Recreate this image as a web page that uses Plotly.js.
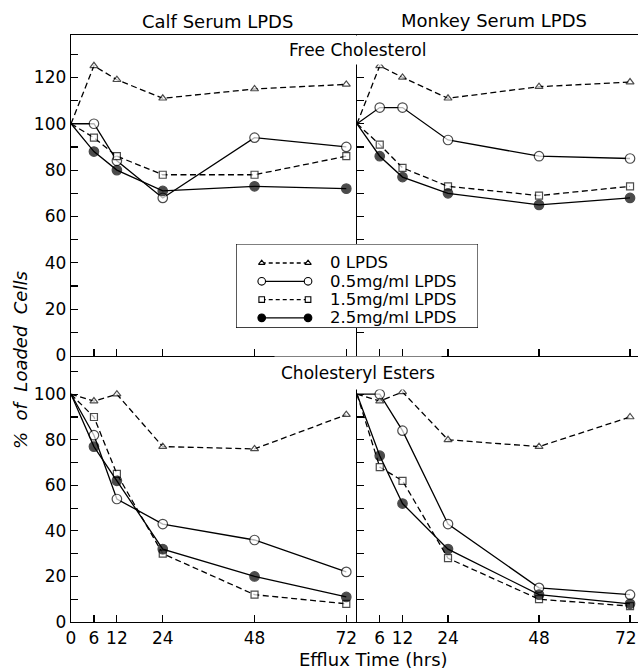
<!DOCTYPE html>
<html><head><meta charset="utf-8">
<script src="https://cdn.plot.ly/plotly-3.0.1.min.js"></script>
<style>html,body{margin:0;padding:0;background:#fff}</style>
</head><body>
<div id="chart" style="width:638px;height:669px"></div>
<script>
// ---- data ----
const times = [0, 6, 12, 24, 48, 72];
const seriesNames = ['0 LPDS', '0.5mg/ml LPDS', '1.5mg/ml LPDS', '2.5mg/ml LPDS'];
const panelTitles = ['Calf Serum LPDS', 'Monkey Serum LPDS'];
const rowTitles = ['Free Cholesterol', 'Cholesteryl Esters'];

const calfFree_0   = [100, 125, 119, 111, 115, 117];
const calfFree_05  = [100, 100, 84, 68, 94, 90];
const calfFree_15  = [100, 94, 86, 78, 78, 86];
const calfFree_25  = [100, 88, 80, 71, 73, 72];

const monkeyFree_0  = [100, 125, 120, 111, 116, 118];
const monkeyFree_05 = [100, 107, 107, 93, 86, 85];
const monkeyFree_15 = [100, 91, 81, 73, 69, 73];
const monkeyFree_25 = [100, 86, 77, 70, 65, 68];

const calfEster_0  = [100, 97, 100, 77, 76, 91];
const calfEster_05 = [100, 82, 54, 43, 36, 22];
const calfEster_15 = [100, 90, 65, 30, 12, 8];
const calfEster_25 = [100, 77, 62, 32, 20, 11];

const monkeyEster_0  = [100, 97, 101, 80, 77, 90];
const monkeyEster_05 = [100, 100, 84, 43, 15, 12];
const monkeyEster_15 = [100, 68, 62, 28, 10, 7];
const monkeyEster_25 = [100, 73, 52, 32, 12, 8];

const xTicksLeft = [0, 6, 12, 24, 48, 72];
const xTicksRight = [6, 12, 24, 48, 72];
const yTicksTop = [0, 20, 40, 60, 80, 100, 120];
const yTicksBottom = [0, 20, 40, 60, 80, 100];

// ---- styles ----
const FONT = 'DejaVu Sans';
const styles = [
  {symbol: 'triangle-up', fill: 'white', dash: '6px,3.5px', size: 7},
  {symbol: 'circle', fill: 'white', dash: 'solid', size: 9.5},
  {symbol: 'square', fill: 'white', dash: '6px,3.5px', size: 7},
  {symbol: 'circle', fill: 'black', dash: 'solid', size: 9.5}
];

const panels = [
  {xa: 'x',  ya: 'y',  data: [calfFree_0, calfFree_05, calfFree_15, calfFree_25]},
  {xa: 'x2', ya: 'y2', data: [monkeyFree_0, monkeyFree_05, monkeyFree_15, monkeyFree_25]},
  {xa: 'x3', ya: 'y3', data: [calfEster_0, calfEster_05, calfEster_15, calfEster_25]},
  {xa: 'x4', ya: 'y4', data: [monkeyEster_0, monkeyEster_05, monkeyEster_15, monkeyEster_25]}
];

const traces = [];
panels.forEach(p => {
  p.data.forEach((vals, i) => {
    const s = styles[i];
    traces.push({
      type: 'scatter', mode: 'lines+markers',
      x: times, y: vals, xaxis: p.xa, yaxis: p.ya,
      name: seriesNames[i], showlegend: false, cliponaxis: false,
      line: {color: 'black', width: 1.3, dash: s.dash},
      marker: {symbol: s.symbol, color: s.fill,
               size: times.map(t => t === 0 ? 0 : s.size),
               line: {color: 'black', width: 1.2}}
    });
  });
});

// custom legend samples (two markers joined by a line)
seriesNames.forEach((n, i) => {
  const s = styles[i];
  traces.push({
    type: 'scatter', mode: 'lines+markers', x: [0, 1], y: [i, i],
    xaxis: 'x5', yaxis: 'y5', showlegend: false, hoverinfo: 'skip',
    line: {color: 'black', width: 1.3, dash: s.dash === 'solid' ? 'solid' : '4px,3px'},
    marker: {symbol: s.symbol, color: s.fill, size: s.size * 0.8, line: {color: 'black', width: 1.1}}
  });
});

const axBase = {
  showline: true, linecolor: 'black', linewidth: 1.3,
  ticks: 'inside', ticklen: 7, tickwidth: 1.2, tickcolor: 'black',
  showgrid: false, zeroline: false, fixedrange: true, ticklabeloverflow: 'allow',
  tickfont: {family: FONT, size: 17, color: 'black'}
};
const minorY = {dtick: 10, ticks: 'inside', ticklen: 7, tickwidth: 1.2, tickcolor: 'black', showgrid: false};
const splitX = 0.5044, splitY = 0.454;
const legX = [-0.555, 4.67], legY = [3.55, -1.04];

// last label of the right panel sits at the page edge: pad it so it stays inside
const rightLabels = xTicksRight.map((v, i) => i === xTicksRight.length - 1 ? String(v) + '\u2002' : String(v));

const layout = {
  width: 638, height: 669,
  margin: {l: 71, r: 0, t: 35, b: 47},
  paper_bgcolor: 'white', plot_bgcolor: 'white',
  showlegend: false,
  font: {family: FONT, color: 'black'},
  xaxis:  Object.assign({}, axBase, {domain: [0, splitX], range: [0, 74.8], anchor: 'y', mirror: true,
           tickmode: 'array', tickvals: xTicksRight, showticklabels: false}),
  xaxis2: Object.assign({}, axBase, {domain: [splitX, 1], range: [0, 74.1], anchor: 'y2', mirror: true,
           tickmode: 'array', tickvals: xTicksRight, showticklabels: false}),
  xaxis3: Object.assign({}, axBase, {domain: [0, splitX], range: [0, 74.8], anchor: 'y3',
           tickmode: 'array', tickvals: xTicksLeft, ticktext: xTicksLeft.map(String)}),
  xaxis4: Object.assign({}, axBase, {domain: [splitX, 1], range: [0, 74.1], anchor: 'y4',
           tickmode: 'array', tickvals: xTicksRight, ticktext: rightLabels}),
  yaxis:  Object.assign({}, axBase, {domain: [splitY, 1], range: [0, 138.3], anchor: 'x',
           tickmode: 'array', tickvals: yTicksTop, minor: minorY}),
  yaxis2: Object.assign({}, axBase, {domain: [splitY, 1], range: [0, 138.3], anchor: 'x2',
           tickmode: 'array', tickvals: yTicksTop, showticklabels: false, minor: minorY}),
  yaxis3: Object.assign({}, axBase, {domain: [0, splitY], range: [0, 117], anchor: 'x3',
           tickmode: 'array', tickvals: yTicksBottom, minor: minorY}),
  yaxis4: Object.assign({}, axBase, {domain: [0, splitY], range: [0, 117], anchor: 'x4',
           tickmode: 'array', tickvals: yTicksBottom, showticklabels: false, minor: minorY}),
  xaxis5: {domain: [0.291, 0.718], range: legX, anchor: 'y5', showline: false,
           showgrid: false, zeroline: false, ticks: '', showticklabels: false, fixedrange: true},
  yaxis5: {domain: [0.501, 0.644], range: legY, anchor: 'x5', showline: false,
           showgrid: false, zeroline: false, ticks: '', showticklabels: false, fixedrange: true},
  shapes: [{type: 'rect', xref: 'x5', yref: 'y5', layer: 'below',
            x0: legX[0], x1: legX[1], y0: legY[0], y1: legY[1],
            fillcolor: 'white', line: {color: 'black', width: 1.3}}],
  annotations: []
};

const ann = layout.annotations;
const tf = (size, extra) => Object.assign({family: FONT, size: size, color: 'black'}, extra || {});
ann.push({xref: 'paper', yref: 'paper', x: 0.258, y: 1.0227, text: panelTitles[0], showarrow: false,
          font: tf(18), xanchor: 'center', yanchor: 'middle'});
ann.push({xref: 'paper', yref: 'paper', x: 0.746, y: 1.0239, text: panelTitles[1], showarrow: false,
          font: tf(18), xanchor: 'center', yanchor: 'middle'});
ann.push({xref: 'paper', yref: 'paper', x: 0.506, y: 0.9744, text: rowTitles[0], showarrow: false,
          font: tf(17), xanchor: 'center', yanchor: 'middle', bgcolor: 'white', borderpad: 4});
ann.push({xref: 'paper', yref: 'paper', x: 0.506, y: 0.4242, text: rowTitles[1], showarrow: false,
          font: tf(17), xanchor: 'center', yanchor: 'middle', bgcolor: 'white', borderpad: 6});
ann.push({xref: 'paper', yref: 'paper', x: -0.09, y: 0.4463, text: '%\u00a0 of\u00a0 Loaded\u00a0 Cells',
          showarrow: false, textangle: -90, font: tf(18, {style: 'italic'}), xanchor: 'center', yanchor: 'middle'});
ann.push({xref: 'paper', yref: 'paper', x: 0.534, y: -0.0647, text: 'Efflux Time (hrs)', showarrow: false,
          font: tf(18), xanchor: 'center', yanchor: 'middle'});
seriesNames.forEach((n, i) => {
  ann.push({xref: 'x5', yref: 'y5', x: 1.45, y: i, text: n, showarrow: false, borderpad: 0,
            font: tf(16.5), xanchor: 'left', yanchor: 'middle'});
});

Plotly.newPlot('chart', traces, layout, {displayModeBar: false, staticPlot: true});
</script>
</body></html>
